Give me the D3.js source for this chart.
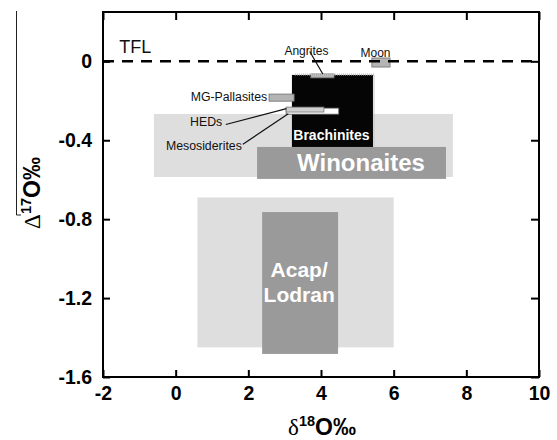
<!DOCTYPE html>
<html>
<head>
<meta charset="utf-8">
<script src="https://cdn.jsdelivr.net/npm/d3@7"></script>
<style>
  body { margin: 0; background: #fff; }
  text { font-family: "Liberation Sans", Arial, sans-serif; }
</style>
</head>
<body>
<script>
// oxygen isotope fields, d18O (x) vs D17O (y), per mil
const fieldNames = ["Acap/Lodran", "Winonaites", "Brachinites", "Angrites", "Moon", "MG-Pallasites", "Mesosiderites", "HEDs"];
const x0s = [0.6, -0.6, 3.2, 3.72, 5.4, 2.57, 3.04, 3.04];
const x1s = [6.0, 7.63, 5.43, 4.36, 5.9, 3.26, 4.49, 4.08];
const y0s = [-0.69, -0.267, -0.069, -0.064, 0.017, -0.166, -0.237, -0.232];
const y1s = [-1.45, -0.586, -0.434, -0.084, -0.029, -0.202, -0.268, -0.257];
// inner (darker) boxes of the two big fields
const coreNames = ["Acap/Lodran", "Winonaites"];
const coreX0 = [2.38, 2.24];
const coreX1 = [4.47, 7.44];
const coreY0 = [-0.764, -0.434];
const coreY1 = [-1.483, -0.596];

const xTicks = [-2, 0, 2, 4, 6, 8, 10];
const yTicks = [0, -0.4, -0.8, -1.2, -1.6];
const xTickLabels = ["-2", "0", "2", "4", "6", "8", "10"];
const yTickLabels = ["0", "-0.4", "-0.8", "-1.2", "-1.6"];

const width = 557, height = 440;
const margin = {top: 12, right: 18, bottom: 63, left: 103};

const svg = d3.select('body').append('svg')
  .attr('width', width)
  .attr('height', height);

const x = d3.scaleLinear().domain([-2, 10]).range([margin.left, width - margin.right]);
const y = d3.scaleLinear().domain([-1.6, 0.25]).range([height - margin.bottom, margin.top]);

const fields = fieldNames.map((n, i) => ({name: n, x0: x0s[i], x1: x1s[i], y0: y0s[i], y1: y1s[i]}));
const cores = coreNames.map((n, i) => ({name: n, x0: coreX0[i], x1: coreX1[i], y0: coreY0[i], y1: coreY1[i]}));

const style = {
  "Acap/Lodran": {fill: "#dedede", stroke: "none"},
  "Winonaites": {fill: "#dedede", stroke: "none"},
  "Brachinites": {fill: "#050505", stroke: "none"},
  "Angrites": {fill: "#b4b4b4", stroke: "#6f6f6f"},
  "Moon": {fill: "#b4b4b4", stroke: "#6f6f6f"},
  "MG-Pallasites": {fill: "#b4b4b4", stroke: "#6f6f6f"},
  "Mesosiderites": {fill: "#ffffff", stroke: "#555"},
  "HEDs": {fill: "#d0d0d0", stroke: "#777"}
};

function drawRects(sel, data, fillFn, strokeFn) {
  sel.selectAll(null).data(data).enter().append('rect')
    .attr('x', d => x(d.x0))
    .attr('y', d => y(d.y0))
    .attr('width', d => x(d.x1) - x(d.x0))
    .attr('height', d => y(d.y1) - y(d.y0))
    .attr('fill', fillFn)
    .attr('stroke', strokeFn)
    .attr('stroke-width', 0.8);
}

const g = svg.append('g');
drawRects(g, fields.slice(0, 2), d => style[d.name].fill, 'none');
drawRects(g, cores, '#9a9a9a', 'none');
drawRects(g, fields.slice(2), d => style[d.name].fill, d => style[d.name].stroke);

// hatched edge of the brachinite box
const br = fields[2];
g.append('path')
  .attr('d', `M${x(br.x0) + 3},${y(br.y0) - 0.5}H${x(br.x1) + 1}V${y(br.y1)}`)
  .attr('fill', 'none')
  .attr('stroke', '#c4c4c4')
  .attr('stroke-width', 2)
  .attr('stroke-dasharray', '1,1');

// TFL dashed line
svg.append('line')
  .attr('x1', x(-2)).attr('x2', x(10))
  .attr('y1', y(0)).attr('y2', y(0))
  .attr('stroke', '#000')
  .attr('stroke-width', 2.5)
  .attr('stroke-dasharray', '11,8');

// field names inside boxes
svg.append('text')
  .attr('x', (x(br.x0) + x(br.x1)) / 2 - 1)
  .attr('y', y(-0.4))
  .attr('text-anchor', 'middle')
  .attr('fill', '#fff')
  .attr('font-weight', 'bold')
  .attr('font-size', 14)
  .text('Brachinites');

svg.append('text')
  .attr('x', x(5.1))
  .attr('y', y(-0.555))
  .attr('text-anchor', 'middle')
  .attr('fill', '#fff')
  .attr('font-weight', 'bold')
  .attr('font-size', 24)
  .text('Winonaites');

const acap = svg.append('text')
  .attr('text-anchor', 'middle')
  .attr('fill', '#fff')
  .attr('font-weight', 'bold')
  .attr('font-size', 21);
acap.append('tspan').attr('x', x(3.4)).attr('y', y(-1.095)).text('Acap/');
acap.append('tspan').attr('x', x(3.4)).attr('y', y(-1.222)).text('Lodran');

// small labels with leader lines
const labels = [
  {text: 'TFL', x: -1.55, y: 0.04, size: 18, anchor: 'start'},
  {text: 'Angrites', x: 3.6, y: 0.03, size: 12, anchor: 'middle'},
  {text: 'Moon', x: 5.5, y: 0.02, size: 12, anchor: 'middle'},
  {text: 'MG-Pallasites', x: 2.52, y: -0.202, size: 12.3, anchor: 'end'},
  {text: 'HEDs', x: 1.28, y: -0.33, size: 12.3, anchor: 'end'},
  {text: 'Mesosiderites', x: 1.82, y: -0.45, size: 12.3, anchor: 'end'}
];
svg.selectAll('.lbl').data(labels).enter().append('text')
  .attr('class', 'lbl')
  .attr('x', d => x(d.x))
  .attr('y', d => y(d.y))
  .attr('text-anchor', d => d.anchor)
  .attr('font-size', d => d.size)
  .attr('fill', '#111')
  .text(d => d.text);

const leaders = [
  [[3.69, 0.05], [4.05, -0.064]],
  [[1.38, -0.32], [3.05, -0.24]],
  [[1.85, -0.42], [3.1, -0.266]]
];
svg.selectAll('.leader').data(leaders).enter().append('line')
  .attr('class', 'leader')
  .attr('x1', d => x(d[0][0])).attr('y1', d => y(d[0][1]))
  .attr('x2', d => x(d[1][0])).attr('y2', d => y(d[1][1]))
  .attr('stroke', '#111')
  .attr('stroke-width', 1.2);

// axes, ticks pointing inward on all four sides
const ax = svg.append('g');
function styleAxis(sel) {
  sel.select('.domain').remove();
  sel.selectAll('.tick line').attr('stroke', '#000').attr('stroke-width', 2);
  sel.selectAll('.tick text')
    .attr('font-family', '"Liberation Sans", Arial, sans-serif')
    .attr('font-weight', 'bold')
    .attr('font-size', 19.5)
    .attr('fill', '#000');
}
ax.append('g').attr('transform', `translate(0,${y(-1.6)})`)
  .call(d3.axisBottom(x).tickValues(xTicks).tickSize(-7).tickPadding(9)
    .tickFormat((d, i) => xTickLabels[i]))
  .call(styleAxis);
ax.append('g').attr('transform', `translate(0,${margin.top})`)
  .call(d3.axisTop(x).tickValues(xTicks).tickSize(-8).tickFormat(''))
  .call(styleAxis);
ax.append('g').attr('transform', `translate(${x(-2)},0)`)
  .call(d3.axisLeft(y).tickValues(yTicks).tickSize(-7).tickPadding(11)
    .tickFormat((d, i) => yTickLabels[i]))
  .call(styleAxis);
ax.append('g').attr('transform', `translate(${x(10)},0)`)
  .call(d3.axisRight(y).tickValues(yTicks).tickSize(-8).tickFormat(''))
  .call(styleAxis);

svg.append('rect')
  .attr('x', x(-2)).attr('y', margin.top)
  .attr('width', x(10) - x(-2))
  .attr('height', y(-1.6) - margin.top)
  .attr('fill', 'none')
  .attr('stroke', '#000')
  .attr('stroke-width', 2);

// axis titles
const xt = svg.append('text')
  .attr('x', 322).attr('y', 435)
  .attr('text-anchor', 'middle')
  .attr('fill', '#000');
xt.append('tspan').attr('font-family', '"Liberation Serif", "DejaVu Serif", serif').attr('font-size', 23).text('δ');
xt.append('tspan').attr('font-weight', 'bold').attr('font-size', 14.5).attr('dy', -9).text('18');
xt.append('tspan').attr('font-weight', 'bold').attr('font-size', 23).attr('dy', 9).text('O‰');

const yt = svg.append('text')
  .attr('transform', 'translate(40,193) rotate(-90)')
  .attr('text-anchor', 'middle')
  .attr('fill', '#000');
yt.append('tspan').attr('font-family', '"Liberation Serif", "DejaVu Serif", serif').attr('font-size', 23).text('Δ');
yt.append('tspan').attr('font-weight', 'bold').attr('font-size', 14.5).attr('dy', -9).text('17');
yt.append('tspan').attr('font-weight', 'bold').attr('font-size', 23).attr('dy', 9).text('O‰');

// stray rule at the left edge of the scan
svg.append('path')
  .attr('d', 'M16.5,11V215H21')
  .attr('fill', 'none')
  .attr('stroke', '#222')
  .attr('stroke-width', 1);
</script>
</body>
</html>
